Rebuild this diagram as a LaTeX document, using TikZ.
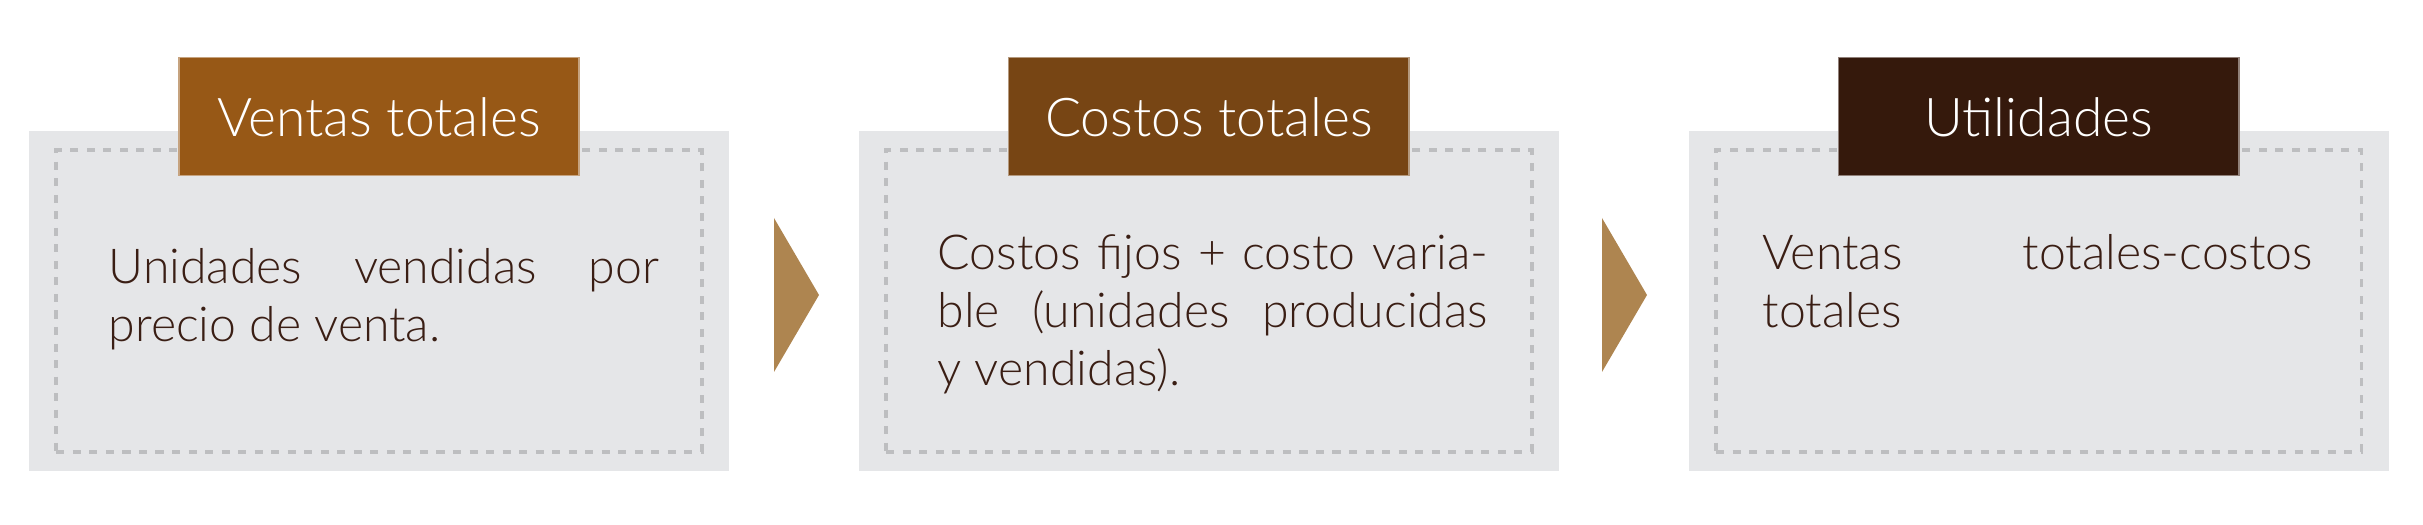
\documentclass[tikz,border=0pt]{standalone}
\usepackage{fontspec}
\setmainfont{Lato}[UprightFont=* Light]
\usetikzlibrary{positioning}
\definecolor{panelgray}{HTML}{E5E6E8}
\definecolor{framegray}{HTML}{BDBEC0}
\definecolor{ventascol}{HTML}{975816}
\definecolor{costoscol}{HTML}{774514}
\definecolor{utilcol}{HTML}{35190C}
\definecolor{chevroncol}{HTML}{AE8550}
\definecolor{textcol}{HTML}{3A1E14}
\tikzset{
  panel/.style={rectangle,fill=panelgray,inner sep=0pt,minimum width=7cm,minimum height=3.4cm},
  frame/.style={rectangle,draw=framegray,line width=1.1pt,dash pattern=on 2.3pt off 2.4pt,inner sep=0pt,minimum width=6.45cm,minimum height=3.01cm},
  titlebox/.style={rectangle,inner sep=0pt,minimum width=4cm,minimum height=1.18cm,text=white,
    font=\fontsize{15.2}{17}\selectfont,text height=0.4cm,text depth=0pt},
  bodytext/.style={anchor=base west,inner sep=0pt,align=left,text=textcol,font=\fontsize{13.7}{16.6}\selectfont},
  chevron/.style={fill=chevroncol}
}
\newcommand{\fullline}[1]{\makebox[5.5cm][s]{#1}}
\begin{document}
\begin{tikzpicture}[x=0.01cm,y=-0.01cm]
  \useasboundingbox (0,0) rectangle (2423,525);
  % the three panels
  \node [panel] (p1) at (379,301) {};
  \node [panel] (p2) [right=1.28cm of p1] {};
  \node [panel] (p3) [right=1.28cm of p2] {};
  \node [frame] (f1) at (p1.center) {};
  \node [frame] (f2) at (p2.center) {};
  \node [frame] (f3) at (p3.center) {};
  \node [titlebox,fill=ventascol,draw=ventascol!55!white,line width=0.4pt] (t1) [above=-0.46cm of p1] {Ventas totales};
  \node [titlebox,fill=costoscol,draw=costoscol!55!white,line width=0.4pt] (t2) [above=-0.46cm of p2] {Costos totales};
  \node [titlebox,fill=utilcol,draw=utilcol!55!white,line width=0.4pt] (t3) [above=-0.46cm of p3] {Utilidades};
  % texts (anchored at the baseline of their last line)
  \node [bodytext] (b1) at (108,342) {\fullline{Unidades vendidas por}\\precio de venta.};
  \node [bodytext] (b2) at (937,386) {\fullline{Costos fijos + costo varia-}\\\fullline{ble (unidades producidas}\\y vendidas).};
  \node [bodytext] (b3) at (1762,328) {\fullline{Ventas totales-costos}\\totales};
  % arrows between panels
  \fill [chevron] (774,218) -- (819,295) -- (774,372) -- cycle;
  \fill [chevron] (1602,218) -- (1647,295) -- (1602,372) -- cycle;
\end{tikzpicture}
\end{document}
